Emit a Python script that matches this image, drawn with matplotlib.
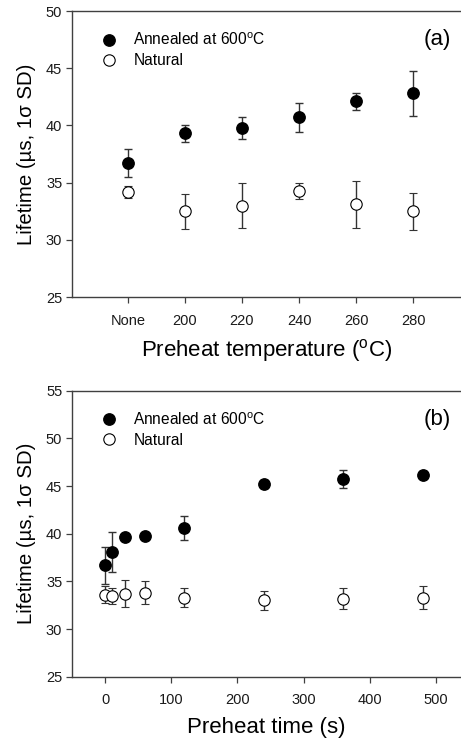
import matplotlib
matplotlib.use("Agg")
import matplotlib.pyplot as plt
from matplotlib.lines import Line2D
import numpy as np

plt.rcParams["font.family"] = ["Liberation Sans", "DejaVu Sans"]
plt.rcParams["mathtext.fontset"] = "custom"
plt.rcParams["mathtext.rm"] = "Liberation Sans"
plt.rcParams["mathtext.it"] = "Liberation Sans:italic"

# (a) preheat temperature
temp_labels = ["None", "200", "220", "240", "260", "280"]
temp_annealed = [36.7, 39.3, 39.8, 40.7, 42.1, 42.8]
temp_annealed_err = [1.2, 0.75, 0.95, 1.25, 0.75, 1.95]
temp_natural = [34.2, 32.5, 33.0, 34.3, 33.1, 32.5]
temp_natural_err = [0.5, 1.55, 2.0, 0.7, 2.05, 1.6]

# (b) preheat time
time_s = [0, 10, 30, 60, 120, 240, 360, 480]
time_annealed = [36.7, 38.1, 39.7, 39.8, 40.6, 45.2, 45.7, 46.2]
time_annealed_err = [1.95, 2.1, 0.3, 0.3, 1.3, 0.4, 0.95, 0.4]
time_natural = [33.6, 33.5, 33.7, 33.8, 33.3, 33.0, 33.2, 33.3]
time_natural_err = [0.9, 0.85, 1.4, 1.2, 1.0, 1.0, 1.1, 1.2]

SPINE = "#404040"
ERR = "#333333"
ann_label = "Annealed at 600$^{\\mathrm{o}}$C"


def style_axes(ax):
    ax.spines["right"].set_visible(False)
    for s in ("left", "top", "bottom"):
        ax.spines[s].set_color(SPINE)
        ax.spines[s].set_linewidth(1.0)
    ax.tick_params(direction="out", length=4, width=0.9, color=SPINE,
                   labelsize=10.5, labelcolor="#1a1a1a", pad=3)


def draw(ax, x, ann, ann_err, nat, nat_err):
    ax.errorbar(x, ann, yerr=ann_err, fmt="o", ms=8.2, mfc="black", mec="black",
                ecolor=ERR, elinewidth=1.0, capsize=2.9, capthick=1.0, zorder=3)
    ax.errorbar(x, nat, yerr=nat_err, fmt="o", ms=8.2, mfc="white", mec="black",
                mew=0.8, ecolor=ERR, elinewidth=1.0, capsize=2.9, capthick=1.0,
                zorder=3)
    handles = [
        Line2D([], [], ls="none", marker="o", ms=8.2, mfc="black", mec="black"),
        Line2D([], [], ls="none", marker="o", ms=8.2, mfc="white", mec="black",
               mew=0.8),
    ]
    ax.legend(handles, [ann_label, "Natural"], loc="upper left",
              bbox_to_anchor=(0.064, 0.928), frameon=False, fontsize=11.2,
              handletextpad=0.85, labelspacing=0.32, handlelength=1.5,
              borderaxespad=0, borderpad=0)


fig = plt.figure(figsize=(4.61, 7.40), dpi=100)

ax1 = fig.add_axes([0.1562, 0.5986, 0.8438, 0.3865])
xpos = np.arange(len(temp_labels))
draw(ax1, xpos, temp_annealed, temp_annealed_err, temp_natural, temp_natural_err)
ax1.set_xlim(-0.98, 5.84)
ax1.set_ylim(25, 50)
ax1.set_xticks(xpos)
ax1.set_xticklabels(temp_labels)
ax1.set_yticks(np.arange(25, 51, 5))
style_axes(ax1)
ax1.tick_params(axis="x", pad=8)
ax1.set_xlabel("Preheat temperature ($^{\\mathrm{o}}$C)", fontsize=16, labelpad=7)
ax1.set_ylabel("Lifetime (µs, 1σ SD)", fontsize=14.7, labelpad=7)
ax1.text(0.975, 0.9, "(a)", transform=ax1.transAxes, ha="right", va="center",
         fontsize=16)

ax2 = fig.add_axes([0.1562, 0.0855, 0.8438, 0.3865])
draw(ax2, time_s, time_annealed, time_annealed_err, time_natural, time_natural_err)
ax2.set_xlim(-50, 538)
ax2.set_ylim(25, 55)
ax2.set_xticks(np.arange(0, 501, 100))
ax2.set_yticks(np.arange(25, 56, 5))
style_axes(ax2)
ax2.tick_params(axis="x", pad=8)
ax2.set_xlabel("Preheat time (s)", fontsize=16, labelpad=7)
ax2.set_ylabel("Lifetime (µs, 1σ SD)", fontsize=14.7, labelpad=7)
ax2.text(0.975, 0.9, "(b)", transform=ax2.transAxes, ha="right", va="center",
         fontsize=16)

fig.savefig("out.png", dpi=100)
